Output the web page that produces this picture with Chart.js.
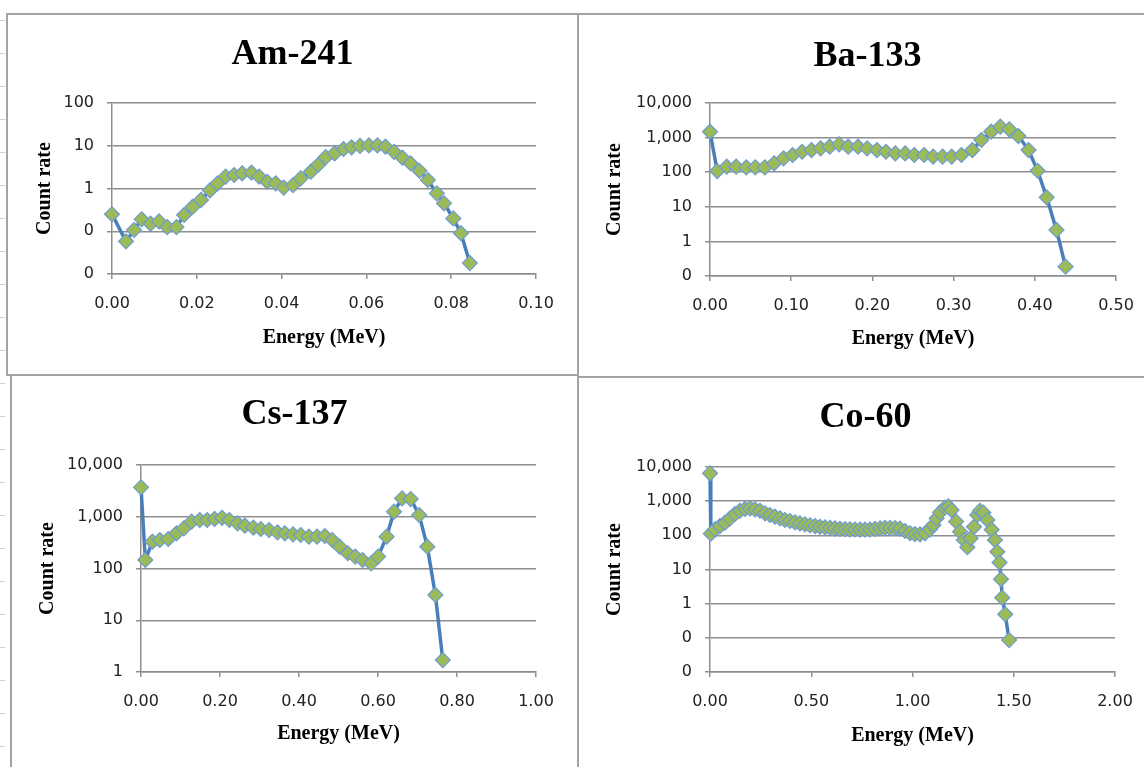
<!DOCTYPE html>
<html>
<head>
<meta charset="utf-8">
<script src="https://cdn.jsdelivr.net/npm/chart.js@4.4.1/dist/chart.umd.min.js"></script>
<style>
  html, body { margin: 0; padding: 0; background: #fff; }
  body { width: 1144px; height: 767px; position: relative; overflow: hidden; }
  canvas { position: absolute; }
  .ln { position: absolute; background: #a3a3a3; }
  .ruler { position: absolute; left: 0; top: 0; width: 5px; height: 767px;
    background: repeating-linear-gradient(to bottom, transparent 0 32px, #cfcfcf 32px 33px);
    background-position: 0 -12px; }
</style>
</head>
<body>
<div class="ruler"></div>
<div class="ln" style="left:577px; top:13px; width:2px; height:754px"></div>
<div class="ln" style="left:6px; top:13px; width:2px; height:363px"></div>
<div class="ln" style="left:6px; top:13px; width:572px; height:2px"></div>
<div class="ln" style="left:6px; top:374px; width:572px; height:2px"></div>
<div class="ln" style="left:578px; top:13px; width:566px; height:2px"></div>
<div class="ln" style="left:578px; top:376px; width:566px; height:2px"></div>
<div class="ln" style="left:10px; top:375px; width:2px; height:392px"></div>

<canvas id="am-chart" width="569" height="359" style="left:8px; top:15px"></canvas>
<canvas id="ba-chart" width="577" height="361" style="left:579px; top:15px"></canvas>
<canvas id="cs-chart" width="565" height="391" style="left:12px; top:376px"></canvas>
<canvas id="co-chart" width="573" height="389" style="left:579px; top:378px"></canvas>

<script>
// Am-241 spectrum
const amEnergy = [0, 0.0033, 0.0052, 0.0070, 0.0091, 0.0111, 0.0130, 0.0152, 0.0170, 0.0190,
  0.0210, 0.0231, 0.0249, 0.0268, 0.0288, 0.0307, 0.0329, 0.0347, 0.0366, 0.0386,
  0.0405, 0.0427, 0.0445, 0.0469, 0.0486, 0.0504, 0.0525, 0.0546, 0.0565, 0.0585,
  0.0606, 0.0626, 0.0645, 0.0665, 0.0685, 0.0704, 0.0725, 0.0745, 0.0766, 0.0783,
  0.0805, 0.0823, 0.0844];
const amCount = [0.25, 0.058, 0.107, 0.19, 0.15, 0.17, 0.125, 0.125, 0.24, 0.37,
  0.54, 0.9, 1.32, 1.9, 2.07, 2.27, 2.34, 1.9, 1.44, 1.32,
  1.05, 1.2, 1.73, 2.47, 3.55, 5.4, 6.6, 8.4, 9.2, 9.9,
  10.2, 10.2, 9.5, 7.2, 5.25, 3.9, 2.6, 1.58, 0.77, 0.45,
  0.2, 0.09, 0.018];

// Ba-133 spectrum
const baEnergy = [0, 0.0089, 0.0206, 0.0322, 0.0447, 0.0558, 0.0675, 0.0790, 0.0906, 0.1018,
  0.1134, 0.1250, 0.1362, 0.1474, 0.1590, 0.1702, 0.1823, 0.1935, 0.2056, 0.2167,
  0.2283, 0.2404, 0.2516, 0.2637, 0.2748, 0.2864, 0.2976, 0.3096, 0.3231, 0.3342,
  0.3463, 0.3575, 0.3686, 0.3798, 0.3923, 0.4035, 0.4146, 0.4267, 0.4379];
const baCount = [1480, 108, 144, 144, 138, 138, 138, 181, 252, 314,
  390, 437, 490, 545, 640, 545, 545, 490, 437, 390,
  350, 350, 314, 314, 283, 283, 283, 314, 437, 853,
  1480, 2065, 1740, 1110, 437, 110, 18.8, 2.14, 0.186];

// Cs-137 spectrum
const csEnergy = [0, 0.011, 0.029, 0.0476, 0.069, 0.0899, 0.1085, 0.128, 0.1488, 0.1675,
  0.1863, 0.205, 0.2237, 0.2443, 0.263, 0.2845, 0.3033, 0.324, 0.3455, 0.3643,
  0.3848, 0.4045, 0.425, 0.4455, 0.4654, 0.4841, 0.5029, 0.5235, 0.5423, 0.561,
  0.5825, 0.6003, 0.6218, 0.6405, 0.661, 0.6828, 0.7043, 0.7248, 0.7453, 0.764];
const csCount = [3700, 146, 330, 355, 372, 479, 598, 803, 866, 866,
  906, 955, 866, 747, 671, 616, 580, 555, 500, 479,
  458, 444, 412, 412, 425, 355, 264, 197, 170, 146,
  126, 170, 412, 1255, 2265, 2200, 1080, 264, 30.8, 1.7];

// Co-60 spectrum
const coEnergy = [0, 0.004, 0.025, 0.049, 0.074, 0.099, 0.123, 0.148, 0.173, 0.198,
  0.222, 0.247, 0.272, 0.296, 0.321, 0.346, 0.370, 0.395, 0.420, 0.444,
  0.469, 0.494, 0.519, 0.543, 0.568, 0.593, 0.617, 0.642, 0.667, 0.691,
  0.716, 0.741, 0.765, 0.790, 0.815, 0.840, 0.864, 0.889, 0.914, 0.938,
  0.963, 0.988, 1.012, 1.037, 1.062, 1.086, 1.103, 1.119, 1.136, 1.160,
  1.177, 1.193, 1.215, 1.235, 1.254, 1.271, 1.287, 1.304, 1.320, 1.333,
  1.350, 1.370, 1.391, 1.407, 1.419, 1.430, 1.437, 1.443, 1.458, 1.477];
const coCount = [6530, 112, 150, 187, 234, 315, 421, 525, 589, 617,
  576, 525, 441, 393, 351, 315, 281, 263, 240, 224,
  210, 196, 187, 178, 172, 166, 160, 155, 152, 150,
  148, 146, 146, 148, 155, 160, 165, 165, 163, 158,
  134, 115, 109, 107, 115, 150, 200, 315, 472, 645,
  700, 550, 252, 128, 73, 45, 82, 178, 393, 520,
  460, 281, 146, 73, 33, 16, 5.2, 1.5, 0.49, 0.086];

// axis ticks
const amXTicks = [0, 0.02, 0.04, 0.06, 0.08, 0.10];
const amXLabels = ['0.00', '0.02', '0.04', '0.06', '0.08', '0.10'];
const amYTicks = [0.01, 0.1, 1, 10, 100];
const amYLabels = ['0', '0', '1', '10', '100'];

const baXTicks = [0, 0.1, 0.2, 0.3, 0.4, 0.5];
const baXLabels = ['0.00', '0.10', '0.20', '0.30', '0.40', '0.50'];
const baYTicks = [0.1, 1, 10, 100, 1000, 10000];
const baYLabels = ['0', '1', '10', '100', '1,000', '10,000'];

const csXTicks = [0, 0.2, 0.4, 0.6, 0.8, 1.0];
const csXLabels = ['0.00', '0.20', '0.40', '0.60', '0.80', '1.00'];
const csYTicks = [1, 10, 100, 1000, 10000];
const csYLabels = ['1', '10', '100', '1,000', '10,000'];

const coXTicks = [0, 0.5, 1.0, 1.5, 2.0];
const coXLabels = ['0.00', '0.50', '1.00', '1.50', '2.00'];
const coYTicks = [0.01, 0.1, 1, 10, 100, 1000, 10000];
const coYLabels = ['0', '0', '1', '10', '100', '1,000', '10,000'];

const gridColor = '#8e8e8e';
const tickFont = { family: 'DejaVu Sans', size: 16 };
const axisTitleFont = { family: 'Liberation Serif', size: 20, weight: 'bold' };

function spectrum(id, title, energy, count, xTicks, xLabels, yTicks, yLabels, L) {
    const ctx = document.getElementById(id).getContext('2d');
    return new Chart(ctx, {
        type: 'scatter',
        data: {
            datasets: [{
                data: energy.map((e, i) => ({ x: e, y: count[i] })),
                showLine: true,
                clip: false,
                borderColor: '#4a7ebb',
                borderWidth: 3.5,
                pointStyle: 'rectRot',
                pointRadius: 7.5,
                pointBackgroundColor: '#9bbb59',
                pointBorderColor: '#6f9bd0',
                pointBorderWidth: 1.2
            }]
        },
        options: {
            responsive: false,
            animation: false,
            devicePixelRatio: 1,
            layout: { padding: 0 },
            plugins: {
                legend: { display: false },
                tooltip: { enabled: false },
                title: {
                    display: true,
                    text: title,
                    color: '#000',
                    font: { family: 'Liberation Serif', size: 36, weight: 'bold' },
                    padding: { top: L.tTop, bottom: L.tBottom }
                }
            },
            scales: {
                x: {
                    type: 'linear',
                    min: xTicks[0],
                    max: xTicks[xTicks.length - 1],
                    afterBuildTicks: s => { s.ticks = xTicks.map(v => ({ value: v })); },
                    afterFit: s => { s.height = L.xH; },
                    grid: { drawOnChartArea: false, tickLength: 5, color: gridColor, lineWidth: 1.5 },
                    border: { color: gridColor, width: 1.5 },
                    ticks: {
                        padding: 15, color: '#222', font: tickFont,
                        maxRotation: 0, autoSkip: false,
                        callback: (v, i) => xLabels[i]
                    },
                    title: {
                        display: true, text: 'Energy (MeV)', color: '#000', font: axisTitleFont,
                        padding: { top: 0, bottom: L.xtPad }
                    }
                },
                y: {
                    type: 'logarithmic',
                    min: yTicks[0],
                    max: yTicks[yTicks.length - 1],
                    afterBuildTicks: s => { s.ticks = yTicks.map(v => ({ value: v })); },
                    afterFit: s => { s.width = L.yW; },
                    grid: { tickLength: 5, color: gridColor, lineWidth: 1.5 },
                    border: { color: gridColor, width: 1.5 },
                    ticks: {
                        padding: 13, color: '#222', font: tickFont, autoSkip: false,
                        callback: (v, i) => yLabels[i]
                    },
                    title: {
                        display: true, text: 'Count rate', color: '#000', font: axisTitleFont,
                        padding: { top: L.ytPad, bottom: 0 }
                    }
                },
                // empty box on the right so the title centres over the whole panel
                pad: {
                    type: 'linear',
                    position: 'right',
                    ticks: { display: false },
                    grid: { display: false },
                    border: { display: false },
                    afterFit: s => { s.width = L.padR; }
                }
            }
        }
    });
}

spectrum('am-chart', 'Am-241', amEnergy, amCount, amXTicks, amXLabels, amYTicks, amYLabels,
    { tTop: 18.4, tBottom: 26.4, yW: 104, ytPad: 25, xH: 100, xtPad: 24.5, padR: 41 });
spectrum('ba-chart', 'Ba-133', baEnergy, baCount, baXTicks, baXLabels, baYTicks, baYLabels,
    { tTop: 19.7, tBottom: 25.1, yW: 131, ytPad: 24.3, xH: 100, xtPad: 25, padR: 40 });
spectrum('cs-chart', 'Cs-137', csEnergy, csCount, csXTicks, csXLabels, csYTicks, csYLabels,
    { tTop: 17.4, tBottom: 28.4, yW: 129, ytPad: 23.4, xH: 95, xtPad: 21, padR: 41 });
spectrum('co-chart', 'Co-60', coEnergy, coCount, coXTicks, coXLabels, coYTicks, coYLabels,
    { tTop: 17.9, tBottom: 27.9, yW: 131, ytPad: 24.3, xH: 95, xtPad: 19, padR: 37 });
</script>
</body>
</html>
